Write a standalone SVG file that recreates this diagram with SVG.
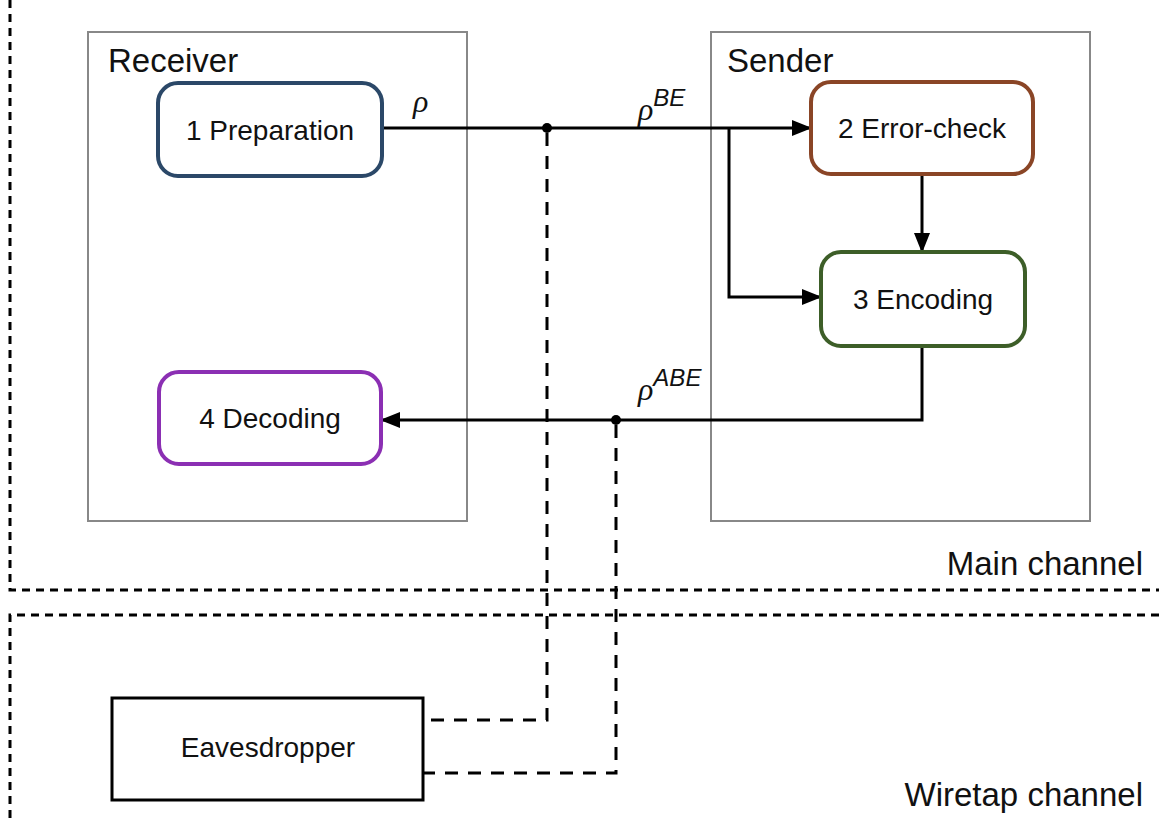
<svg xmlns="http://www.w3.org/2000/svg" width="1159" height="821" viewBox="0 0 1159 821">
<defs>
<marker id="arr" markerWidth="20" markerHeight="16" refX="19" refY="8" orient="auto" markerUnits="userSpaceOnUse"><path d="M0,0 L20,8 L0,16 Z" fill="#000"/></marker>
<style>
.t{font-family:"Liberation Sans",Arial,sans-serif;fill:#111}
.lbl{font-size:28px;text-anchor:middle}
.big{font-size:33px}
.m{font-family:"Liberation Serif","DejaVu Serif",serif;font-style:italic;font-size:32px;fill:#111}
.sup{font-family:"Liberation Sans",Arial,sans-serif;font-style:italic;font-size:24px}
.node{fill:#fff;stroke-width:4}
.grp{fill:none;stroke:#888;stroke-width:2}
.ln{fill:none;stroke:#000;stroke-width:3}
.dash{fill:none;stroke:#000;stroke-width:3;stroke-dasharray:13 10}
.dash2{fill:none;stroke:#000;stroke-width:3;stroke-dasharray:8 6}
</style>
</defs>
<rect width="1159" height="821" fill="#fff"/>
<g id="boundaries">
<path class="dash2" d="M10,0 V590 H1159"/>
<path class="dash2" d="M1159,615 H10 V821"/>
<text class="t big" x="1143" y="575" text-anchor="end">Main channel</text>
<text class="t big" x="1143" y="806" text-anchor="end">Wiretap channel</text>
</g>
<g id="receiver">
<rect class="grp" x="88" y="32" width="379" height="489"/>
<text class="t big" x="108" y="72">Receiver</text>
</g>
<g id="sender">
<rect class="grp" x="711" y="32" width="379" height="489"/>
<text class="t big" x="727" y="72">Sender</text>
</g>
<g id="connectors">
<path class="ln" d="M382,128 H811" marker-end="url(#arr)"/>
<path class="ln" d="M729,128 V297 H821" marker-end="url(#arr)"/>
<path class="ln" d="M922,174 V252" marker-end="url(#arr)"/>
<path class="ln" d="M922,346 V420 H381" marker-end="url(#arr)"/>
<circle cx="547" cy="128" r="5" fill="#000"/>
<circle cx="616" cy="420" r="5" fill="#000"/>
<path class="dash" d="M547,133 V720 H423"/>
<path class="dash" d="M616,425 V773 H423"/>
<text class="m" x="413" y="112">ρ</text>
<text class="m" x="638" y="120">ρ<tspan class="sup" dy="-14">BE</tspan></text>
<text class="m" x="638" y="400">ρ<tspan class="sup" dy="-14">ABE</tspan></text>
</g>
<g id="n1">
<rect class="node" x="158" y="83" width="224" height="93" rx="20" stroke="#2b4868"/>
<text class="t lbl" x="270" y="140">1 Preparation</text>
</g>
<g id="n2">
<rect class="node" x="811" y="82" width="222" height="92" rx="20" stroke="#8a4526"/>
<text class="t lbl" x="922" y="138">2 Error-check</text>
</g>
<g id="n3">
<rect class="node" x="821" y="252" width="204" height="94" rx="20" stroke="#3d5e28"/>
<text class="t lbl" x="923" y="309">3 Encoding</text>
</g>
<g id="n4">
<rect class="node" x="159" y="372" width="222" height="92" rx="20" stroke="#8b2fb3"/>
<text class="t lbl" x="270" y="428">4 Decoding</text>
</g>
<g id="eve">
<rect x="112" y="698" width="311" height="102" fill="#fff" stroke="#000" stroke-width="3"/>
<text class="t lbl" x="268" y="757">Eavesdropper</text>
</g>
</svg>
